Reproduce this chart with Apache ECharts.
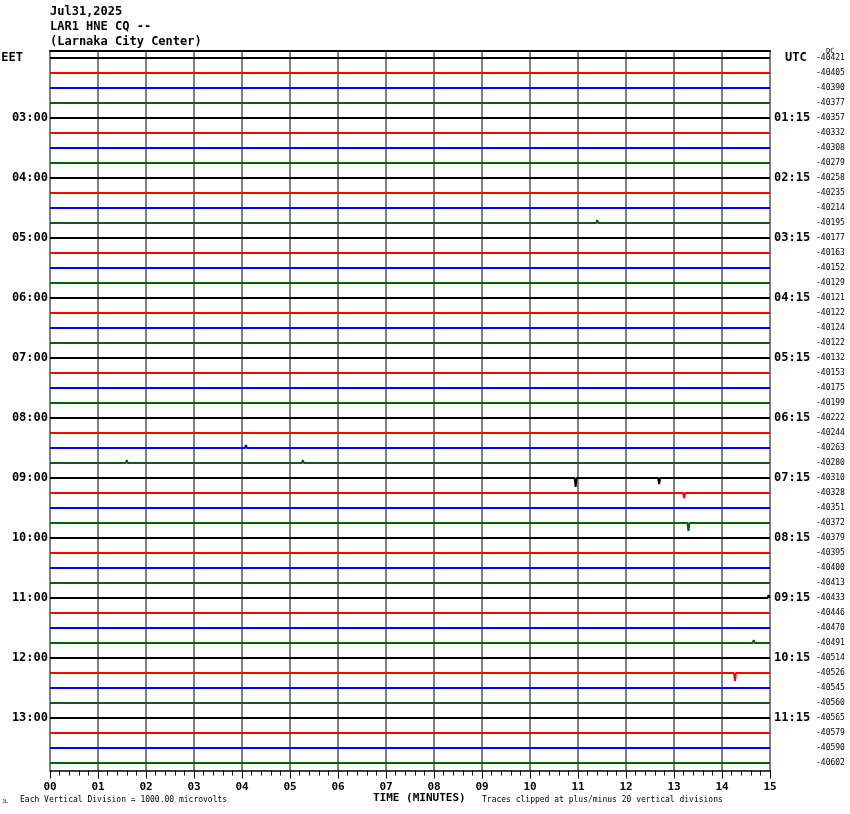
<!DOCTYPE html>
<html>
<head>
<meta charset="utf-8">
<script src="https://cdn.jsdelivr.net/npm/echarts@6/dist/echarts.min.js"></script>
<style>
html,body{margin:0;padding:0;background:#fff;}
#chart{width:850px;height:814px;}
</style>
</head>
<body>
<div id="chart"></div>
<script>
// ---- data ----
const titleLines = ['Jul31,2025', 'LAR1 HNE CQ --', '(Larnaka City Center)'];
const minuteTicks = ['00','01','02','03','04','05','06','07','08','09','10','11','12','13','14','15'];
const eetLabels = ['EET','03:00','04:00','05:00','06:00','07:00','08:00','09:00','10:00','11:00','12:00','13:00'];
const utcLabels = ['UTC','01:15','02:15','03:15','04:15','05:15','06:15','07:15','08:15','09:15','10:15','11:15'];
const dcValues = [
  -40421, -40405, -40390, -40377, -40357, -40332, -40308, -40279,
  -40258, -40235, -40214, -40195, -40177, -40163, -40152, -40129,
  -40121, -40122, -40124, -40122, -40132, -40153, -40175, -40199,
  -40222, -40244, -40263, -40280, -40310, -40328, -40351, -40372,
  -40379, -40395, -40400, -40413, -40433, -40446, -40470, -40491,
  -40514, -40526, -40545, -40560, -40565, -40579, -40590, -40602
];
// notable excursions: trace row, minute, amplitude (in trace spacings, + = up)
const spikeRows    = [11,    26,   27,   27,   27,   28,    28,    29,    29,    29,   30,   31,    36,    39,    41,    41,   46,  47];
const spikeMinutes = [11.40, 4.08, 1.60, 4.02, 5.27, 10.95, 12.69, 13.21, 13.26, 5.77, 12.9, 13.30, 14.97, 14.66, 14.27, 14.0, 2.2, 10.05];
const spikeAmps    = [0.2,   0.2,  0.2,  0.13, 0.2,  -0.6,  -0.4,  -0.33, 0.13,  0.13, 0.13, -0.53, 0.2,   0.2,   -0.53, 0.13, 0.13, 0.13];
const traceColors = ['#000000', '#ff0000', '#0000ff', '#006400'];
const nTraces = dcValues.length;

// ---- build series ----
const series = [];
for (let r = 0; r < nTraces; r++) {
  const ev = [];
  for (let k = 0; k < spikeRows.length; k++) {
    if (spikeRows[k] === r) ev.push([spikeMinutes[k], spikeAmps[k]]);
  }
  ev.sort((a, b) => a[0] - b[0]);
  const data = [[0, r]];
  ev.forEach(([m, a]) => {
    data.push([m - 0.02, r]);
    data.push([m, r - a]);
    data.push([m + 0.02, r]);
  });
  data.push([15, r]);
  series.push({
    type: 'line',
    xAxisIndex: 0,
    yAxisIndex: 0,
    data: data,
    showSymbol: false,
    symbol: 'none',
    silent: true,
    lineStyle: { color: traceColors[r % 4], width: 2 },
    z: 3
  });
}

const rowCats = dcValues.map((_, i) => i);
const mono = 'DejaVu Sans Mono';

const chart = echarts.init(document.getElementById('chart'), null, { renderer: 'canvas' });
chart.setOption({
  animation: false,
  backgroundColor: '#ffffff',
  title: {
    text: titleLines.join('\n'),
    left: 50,
    top: 4,
    padding: 0,
    textStyle: { fontFamily: mono, fontWeight: 'bold', fontSize: 12, lineHeight: 15, color: '#000' }
  },
  grid: { left: 50, top: 50.5, width: 720, height: 720, containLabel: false, outerBoundsMode: 'none' },
  xAxis: [
    {
      type: 'value', position: 'bottom', min: 0, max: 15, interval: 1,
      axisLine: { show: true, onZero: false, lineStyle: { color: '#000', width: 1.5 } },
      axisTick: { show: true, length: 8, lineStyle: { color: '#000', width: 1 } },
      minorTick: { show: true, splitNumber: 5, length: 5, lineStyle: { color: '#000', width: 1 } },
      axisLabel: {
        margin: 11, fontFamily: mono, fontWeight: 'bold', fontSize: 11, color: '#000',
        formatter: v => minuteTicks[Math.round(v)]
      },
      splitLine: { show: true, lineStyle: { color: '#808080', width: 2 } }
    },
    {
      type: 'value', position: 'top', min: 0, max: 15, interval: 1,
      axisLine: { show: true, onZero: false, lineStyle: { color: '#000', width: 2 } },
      axisTick: { show: false }, minorTick: { show: false },
      axisLabel: { show: false }, splitLine: { show: false }
    }
  ],
  yAxis: [
    {
      type: 'value', min: -0.5, max: 47.5, inverse: true, show: false,
      splitLine: { show: false }
    },
    {
      type: 'category', position: 'left', data: rowCats, inverse: true,
      axisLine: { show: false }, axisTick: { show: false }, splitLine: { show: false },
      axisLabel: {
        interval: 0, margin: 2, fontFamily: mono, fontWeight: 'bold', fontSize: 12, color: '#000',
        formatter: v => {
          const i = Number(v);
          if (i % 4 !== 0) return '';
          return i === 0 ? '{hdr|' + eetLabels[0] + '}' : eetLabels[i / 4];
        },
        rich: { hdr: { fontFamily: mono, fontWeight: 'bold', fontSize: 12, color: '#000', padding: [0, 25, 0, 0] } }
      }
    },
    {
      type: 'category', position: 'right', data: rowCats, inverse: true,
      axisLine: { show: false }, axisTick: { show: false }, splitLine: { show: false },
      axisLabel: {
        interval: 0, margin: 4, fontFamily: mono, fontWeight: 'bold', fontSize: 12, color: '#000',
        formatter: v => {
          const i = Number(v);
          if (i % 4 !== 0) return '';
          return i === 0 ? '{hdr|' + utcLabels[0] + '}' : utcLabels[i / 4];
        },
        rich: { hdr: { fontFamily: mono, fontWeight: 'bold', fontSize: 12, color: '#000', padding: [0, 0, 0, 11] } }
      }
    },
    {
      type: 'category', position: 'right', offset: 44, data: rowCats, inverse: true,
      axisLine: { show: false }, axisTick: { show: false }, splitLine: { show: false },
      axisLabel: {
        interval: 0, margin: 2, fontFamily: mono, fontSize: 8, color: '#000',
        formatter: v => String(dcValues[Number(v)])
      }
    }
  ],
  graphic: [
    { type: 'text', left: 826, top: 48, silent: true,
      style: { text: 'DC', font: '7px "DejaVu Sans Mono"', fill: '#000' } },
    { type: 'text', left: 373, top: 793, silent: true,
      style: { text: 'TIME (MINUTES)', font: 'bold 11px "DejaVu Sans Mono"', fill: '#000' } },
    { type: 'text', left: 20, top: 796, silent: true,
      style: { text: 'Each Vertical Division = 1000.00 microvolts', font: '8px "DejaVu Sans Mono"', fill: '#000' } },
    { type: 'text', left: 482, top: 796, silent: true,
      style: { text: 'Traces clipped at plus/minus 20 vertical divisions', font: '8px "DejaVu Sans Mono"', fill: '#000' } },
    { type: 'text', left: 2, top: 799, silent: true,
      style: { text: 'JL', font: '5px "DejaVu Sans Mono"', fill: '#000' } }
  ],
  series: series
});
</script>
</body>
</html>
